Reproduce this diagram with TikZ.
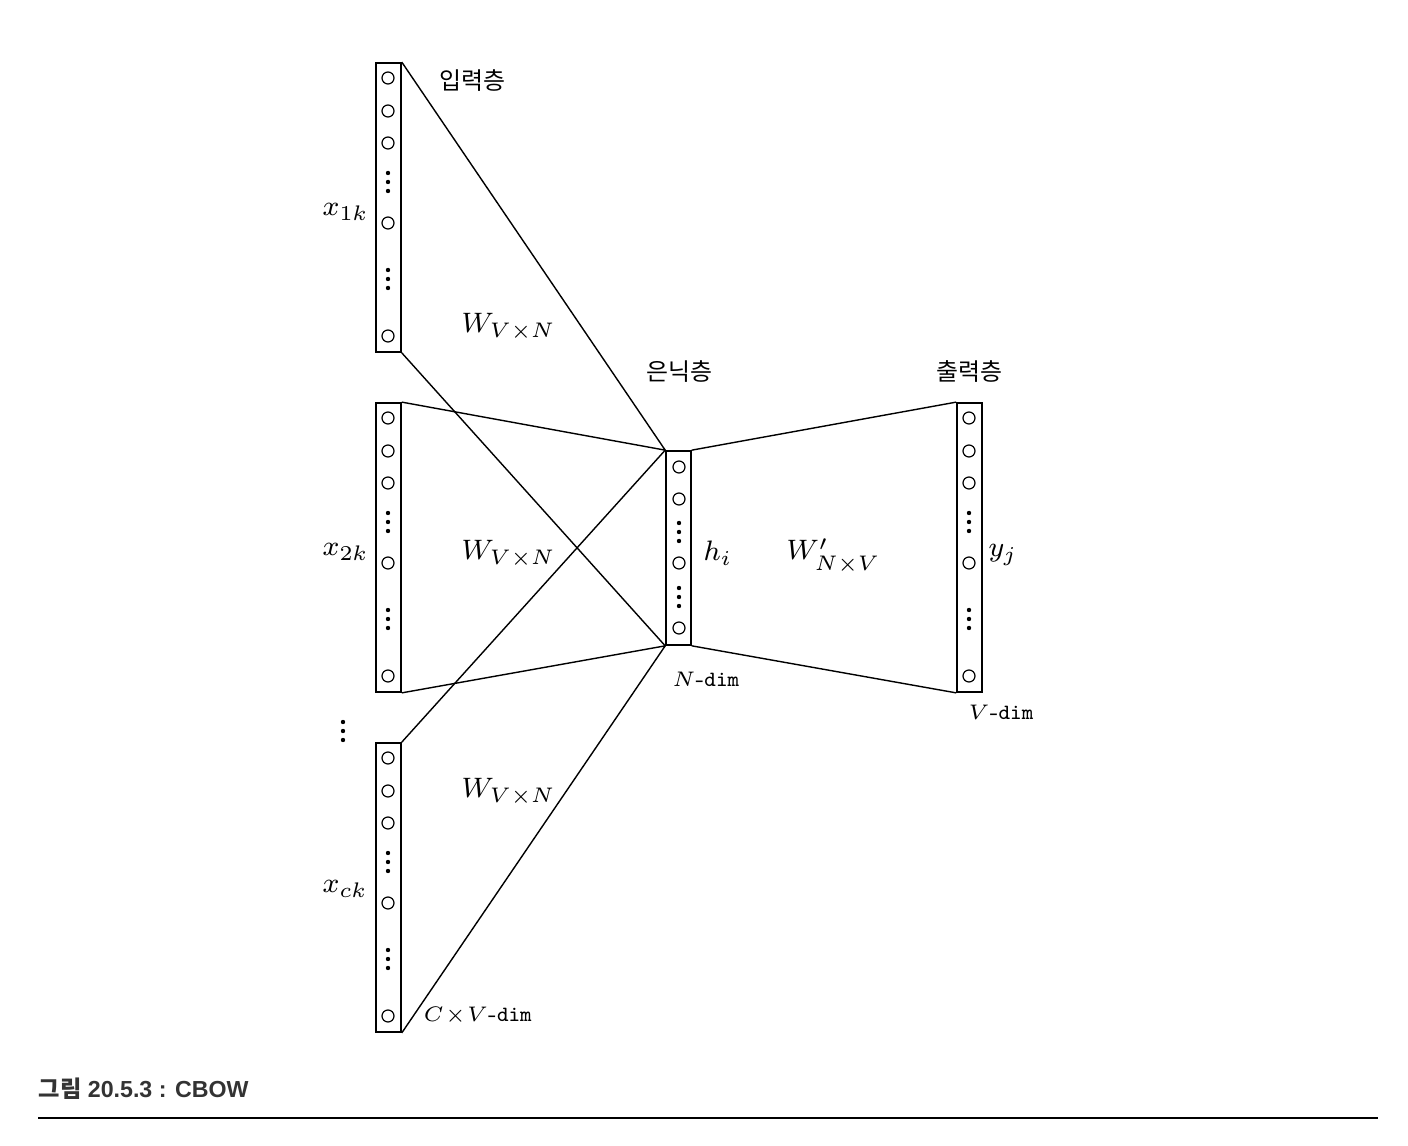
\documentclass[tikz,border=0pt]{standalone}
\usepackage{fontspec}
\newfontfamily\kr{Noto Sans CJK KR}
\newfontfamily\capsans{Liberation Sans}
\usetikzlibrary{positioning}
\definecolor{captiongray}{rgb}{0.2,0.2,0.2}

\begin{document}
\begin{tikzpicture}[x=0.01cm,y=-0.01cm,
  layer/.style={draw,line width=0.45pt,inner sep=0pt,minimum width=0.25cm},
  wire/.style={line width=0.4pt},
  mathlbl/.style={anchor=base west,inner sep=0pt,font=\fontsize{8.2}{10}\selectfont},
  dimlbl/.style={anchor=base west,inner sep=0pt,font=\fontsize{6.2}{7.5}\selectfont},
  krlbl/.style={inner sep=0pt,font=\kr\fontsize{6.8}{8}\selectfont}]
\useasboundingbox (0,0) rectangle (1408,1146);

% layers
\node[layer,minimum height=2.89cm] (in1) at (388.5,207.5) {};
\node[layer,minimum height=2.89cm] (in2) at (388.5,547.5) {};
\node[layer,minimum height=2.89cm] (in3) at (388.5,887.5) {};
\node[layer,minimum height=1.94cm] (hid) at (678.5,548) {};
\node[layer,minimum height=2.89cm] (out) at (969.5,547.5) {};

% units
\draw[line width=0.35pt] (388,78) circle (0.06cm) (388,111) circle (0.06cm) (388,143) circle (0.06cm)
  (388,223) circle (0.06cm) (388,336) circle (0.06cm);
\draw[line width=0.35pt] (388,418) circle (0.06cm) (388,451) circle (0.06cm) (388,483) circle (0.06cm)
  (388,563) circle (0.06cm) (388,676) circle (0.06cm);
\draw[line width=0.35pt] (388,758) circle (0.06cm) (388,791) circle (0.06cm) (388,823) circle (0.06cm)
  (388,903) circle (0.06cm) (388,1016) circle (0.06cm);
\draw[line width=0.35pt] (679,467) circle (0.06cm) (679,499) circle (0.06cm) (679,563) circle (0.06cm)
  (679,628) circle (0.06cm);
\draw[line width=0.35pt] (969,418) circle (0.06cm) (969,451) circle (0.06cm) (969,483) circle (0.06cm)
  (969,563) circle (0.06cm) (969,676) circle (0.06cm);

% dots
\fill (388,173) circle (0.022cm) (388,182) circle (0.022cm) (388,191) circle (0.022cm)
  (388,270) circle (0.022cm) (388,279) circle (0.022cm) (388,288) circle (0.022cm);
\fill (388,513) circle (0.022cm) (388,522) circle (0.022cm) (388,531) circle (0.022cm)
  (388,610) circle (0.022cm) (388,619) circle (0.022cm) (388,628) circle (0.022cm);
\fill (388,853) circle (0.022cm) (388,862) circle (0.022cm) (388,871) circle (0.022cm)
  (388,950) circle (0.022cm) (388,959) circle (0.022cm) (388,968) circle (0.022cm);
\fill (679,523) circle (0.022cm) (679,532) circle (0.022cm) (679,541) circle (0.022cm)
  (679,588) circle (0.022cm) (679,597) circle (0.022cm) (679,606) circle (0.022cm);
\fill (969,513) circle (0.022cm) (969,522) circle (0.022cm) (969,531) circle (0.022cm)
  (969,610) circle (0.022cm) (969,619) circle (0.022cm) (969,628) circle (0.022cm);
\fill (343,722) circle (0.022cm) (343,731) circle (0.022cm) (343,740) circle (0.022cm);

% weights
\draw[wire] (in1.north east) -- (hid.north west);
\draw[wire] (in1.south east) -- (hid.south west);
\draw[wire] (in2.north east) -- (hid.north west);
\draw[wire] (in2.south east) -- (hid.south west);
\draw[wire] (in3.north east) -- (hid.north west);
\draw[wire] (in3.south east) -- (hid.south west);
\draw[wire] (hid.north east) -- (out.north west);
\draw[wire] (hid.south east) -- (out.south west);

% labels
\node[krlbl] (tin) at (472,81) {입력층};
\node[krlbl] (thid) at (679,372) {은닉층};
\node[krlbl] (tout) at (969,372) {출력층};
\node[mathlbl] (x1) at (322,216) {$x_{1k}$};
\node[mathlbl] (x2) at (322,556) {$x_{2k}$};
\node[mathlbl] (xc) at (322,893) {$x_{ck}$};
\node[mathlbl] (w1) at (461,333) {$W_{V\times N}$};
\node[mathlbl] (w2) at (461,560) {$W_{V\times N}$};
\node[mathlbl] (w3) at (461,798) {$W_{V\times N}$};
\node[mathlbl] (hi) at (703,561) {$h_i$};
\node[mathlbl] (wout) at (786,560) {$W'_{N\times V}$};
\node[mathlbl] (yj) at (988,557) {$y_j$};
\node[dimlbl] (ndim) at (672,687) {$N$-\texttt{dim}};
\node[dimlbl] (vdim) at (968,720) {$V$-\texttt{dim}};
\node[dimlbl] (cvdim) at (423,1022) {$C\!\times\! V$-\texttt{dim}};

% caption
\node[anchor=base west,inner sep=0pt,text=captiongray,font=\fontsize{6.6}{8}\selectfont\bfseries] (cap) at (38,1098)
  {{\kr 그림}\capsans\ 20.5.3 : CBOW};
\draw[line width=0.85pt] (38,1118) -- (1378,1118);
\end{tikzpicture}
\end{document}
